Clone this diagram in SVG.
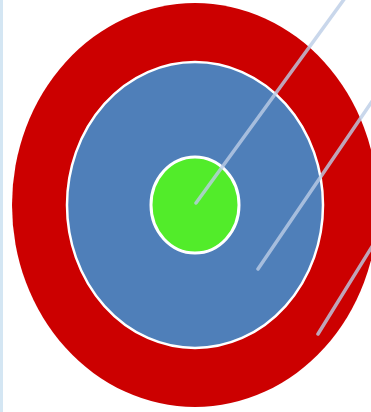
<svg xmlns="http://www.w3.org/2000/svg" width="371" height="412" viewBox="0 0 371 412">
<style>
.ln{stroke:#bccde6;stroke-width:3.5;stroke-linecap:round;opacity:0.8;fill:none}
</style>
<rect width="371" height="412" fill="#ffffff"/>
<rect x="0" y="0" width="3" height="412" fill="#d4e6f3"/>
<g id="outer"><ellipse cx="195" cy="205" rx="183" ry="202" fill="#cc0000"/></g>
<g id="middle"><ellipse cx="195" cy="205" rx="128" ry="143" fill="#4f7fb9" stroke="#ffffff" stroke-width="2.5"/></g>
<g id="inner"><ellipse cx="195" cy="205" rx="44" ry="48" fill="#52ec2a" stroke="#ffffff" stroke-width="3"/></g>
<g id="connectors">
<line class="ln" x1="196" y1="203" x2="345" y2="-2"/>
<line class="ln" x1="258" y1="269" x2="373" y2="100"/>
<line class="ln" x1="318" y1="334" x2="373" y2="245"/>
</g>
</svg>
